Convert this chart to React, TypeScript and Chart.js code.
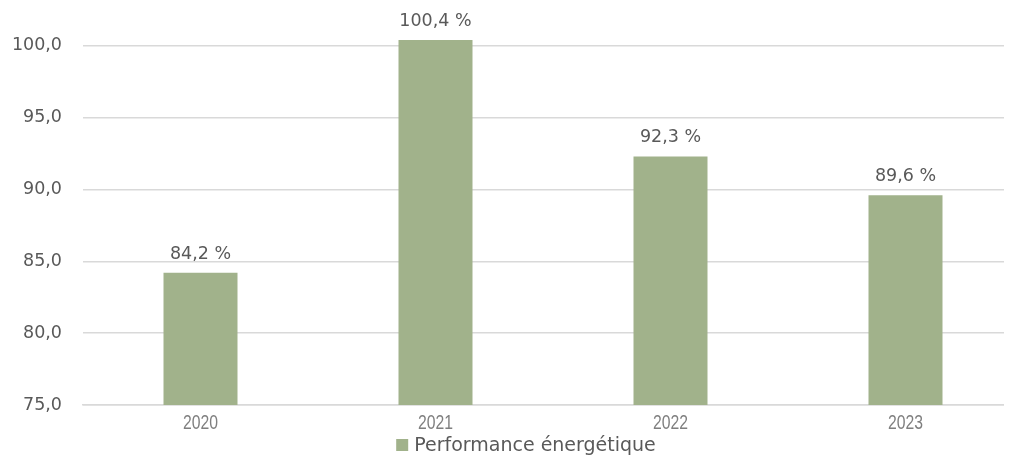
import React, { useEffect, useRef } from "react";
import { Chart, registerables } from "chart.js";

Chart.register(...registerables);

const categories = ["2020", "2021", "2022", "2023"];
const performanceValues = [84.2, 100.4, 92.3, 89.6];
const seriesLabel = "Performance énergétique";
const yTickValues = [75, 80, 85, 90, 95, 100];

const fmt = (v: number) => v.toFixed(1).replace(".", ",");
const MAIN_FONT = "'DejaVu Sans', sans-serif";
const BAR_COLOR = "#a1b28b";

const dataLabelPlugin = {
  id: "dataLabels",
  afterDatasetsDraw(chart: any) {
    const ctx = chart.ctx;
    const meta = chart.getDatasetMeta(0);
    ctx.save();
    ctx.font = `17.5px ${MAIN_FONT}`;
    ctx.fillStyle = "#595959";
    ctx.textAlign = "center";
    ctx.textBaseline = "alphabetic";
    meta.data.forEach((bar: any, i: number) => {
      const v = chart.data.datasets[0].data[i] as number;
      ctx.fillText(`${fmt(v)} %`, bar.x, bar.y - 14);
    });
    ctx.restore();
  },
};

const narrowXLabels = {
  id: "narrowXLabels",
  afterDraw(chart: any) {
    const ctx = chart.ctx;
    const xs = chart.scales.x;
    ctx.save();
    ctx.font = "21px 'Liberation Sans', Arial, sans-serif";
    ctx.fillStyle = "#7f7f7f";
    ctx.textAlign = "center";
    ctx.textBaseline = "middle";
    (chart.data.labels as string[]).forEach((lab, i) => {
      const x = xs.getPixelForTick(i);
      ctx.save();
      ctx.translate(x, xs.top + 18.5);
      ctx.scale(0.75, 1);
      ctx.fillText(lab, 0, 0);
      ctx.restore();
    });
    ctx.restore();
  },
};

const bottomLegend = {
  id: "bottomLegend",
  afterDraw(chart: any) {
    const ctx = chart.ctx;
    const ds = chart.data.datasets[0];
    ctx.save();
    ctx.font = `19px ${MAIN_FONT}`;
    const tw = ctx.measureText(ds.label).width;
    const box = 12;
    const gap = 6;
    const total = box + gap + tw;
    const center = chart.width / 2 + 10.5;
    const left = center - total / 2;
    const baseline = chart.height - 6;
    ctx.fillStyle = ds.backgroundColor;
    ctx.fillRect(left, baseline - 12, box, box);
    ctx.fillStyle = "#595959";
    ctx.textAlign = "left";
    ctx.textBaseline = "alphabetic";
    ctx.fillText(ds.label, left + box + gap, baseline);
    ctx.restore();
  },
};

export default function App() {
  const ref = useRef<HTMLCanvasElement>(null);
  useEffect(() => {
    if (!ref.current) return;
    const chart = new Chart(ref.current, {
      type: "bar",
      data: {
        labels: categories,
        datasets: [
          {
            label: seriesLabel,
            data: performanceValues,
            backgroundColor: BAR_COLOR,
            categoryPercentage: 1,
            barPercentage: 74 / 235,
          },
        ],
      },
      options: {
        animation: false,
        responsive: false,
        maintainAspectRatio: false,
        layout: { padding: { left: 0, right: 0, top: 32, bottom: 22 } },
        plugins: {
          tooltip: { enabled: false },
          legend: { display: false },
        },
        scales: {
          x: {
            grid: { display: false },
            border: { display: true, color: "#d9d9d9", width: 1.5 },
            afterFit: (scale: any) => {
              scale.height = 30;
            },
            ticks: {
              color: "rgba(0,0,0,0)",
              padding: 2,
              font: { size: 12 },
            },
          },
          y: {
            min: 75,
            max: 100.4,
            afterBuildTicks: (scale: any) => {
              scale.ticks = yTickValues.map((v) => ({ value: v }));
            },
            afterFit: (scale: any) => {
              scale.width = 75;
            },
            grid: { color: "#d9d9d9", lineWidth: 1.5, drawTicks: false },
            border: { display: false },
            ticks: {
              padding: 21,
              color: "#595959",
              font: { family: MAIN_FONT, size: 17.5 },
              callback: (v: any) => fmt(Number(v)),
            },
          },
        },
      },
      plugins: [dataLabelPlugin, narrowXLabels, bottomLegend],
    });
    return () => chart.destroy();
  }, []);
  return (
    <div style={{ width: 1004, height: 449, overflow: "hidden" }}>
      <canvas ref={ref} width={1015} height={449} style={{ display: "block" }} />
    </div>
  );
}
